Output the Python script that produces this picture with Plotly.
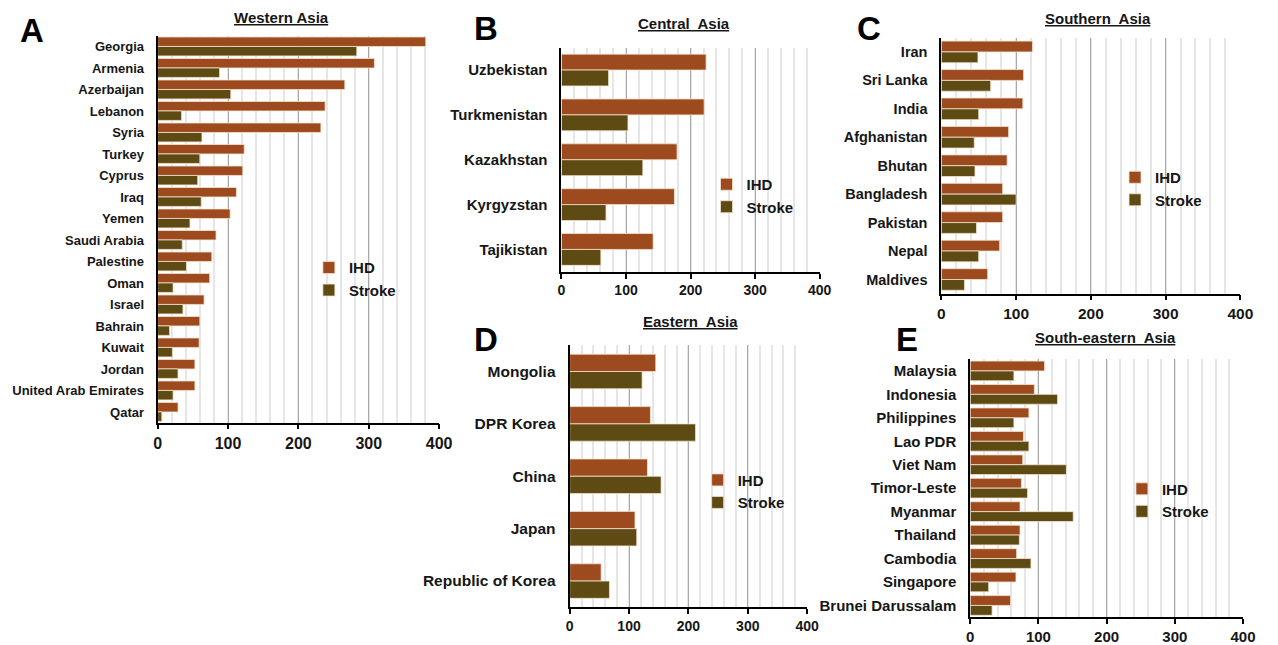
import plotly.graph_objects as go

# ---- data: deaths per 100,000 by country, ischaemic heart disease (IHD) and stroke ----
western_countries = ["Georgia", "Armenia", "Azerbaijan", "Lebanon", "Syria", "Turkey",
                     "Cyprus", "Iraq", "Yemen", "Saudi Arabia", "Palestine", "Oman",
                     "Israel", "Bahrain", "Kuwait", "Jordan", "United Arab Emirates", "Qatar"]
western_ihd = [381, 308, 266, 238, 232, 123, 121, 112, 103, 83, 77, 74, 66, 60, 59, 53, 53, 29]
western_stroke = [283, 88, 104, 34, 63, 60, 57, 62, 46, 35, 41, 22, 36, 17, 21, 29, 22, 6]

central_countries = ["Uzbekistan", "Turkmenistan", "Kazakhstan", "Kyrgyzstan", "Tajikistan"]
central_ihd = [224, 221, 179, 175, 142]
central_stroke = [73, 103, 126, 69, 61]

southern_countries = ["Iran", "Sri Lanka", "India", "Afghanistan", "Bhutan",
                      "Bangladesh", "Pakistan", "Nepal", "Maldives"]
southern_ihd = [122, 110, 109, 90, 88, 82, 82, 78, 62]
southern_stroke = [49, 66, 50, 44, 45, 100, 47, 50, 31]

eastern_countries = ["Mongolia", "DPR Korea", "China", "Japan", "Republic of Korea"]
eastern_ihd = [145, 136, 131, 110, 53]
eastern_stroke = [122, 212, 154, 113, 67]

southeastern_countries = ["Malaysia", "Indonesia", "Philippines", "Lao PDR", "Viet Nam",
                          "Timor-Leste", "Myanmar", "Thailand", "Cambodia", "Singapore",
                          "Brunei Darussalam"]
southeastern_ihd = [109, 94, 86, 78, 77, 75, 73, 73, 68, 67, 59]
southeastern_stroke = [64, 128, 64, 86, 141, 84, 151, 72, 89, 27, 32]

x_ticks = [0, 100, 200, 300, 400]

# ---- styling ----
W, H = 1278, 645
IHD_COLOR = "#9c4a1e"
STROKE_COLOR = "#5e4b14"
EDGE = "#f4e2cf"
FONT = "Liberation Sans, Arial, sans-serif"
TEXT = "#161616"

# panel layout in pixels: plot box (left, right, top, bottom), bar width in
# category units, tick font sizes, title centre, letter centre, legend anchor
panels = [
    dict(letter="A", title="Western Asia",
         countries=western_countries, ihd=western_ihd, stroke=western_stroke,
         box=(155.7, 441.0, 36, 426), bw=0.44, xfont=16, yfont=13,
         title_xy=(281.7, 18), letter_xy=(28, 31), legend_xy=(309, 281)),
    dict(letter="B", title="Central\u00a0 Asia",
         countries=central_countries, ihd=central_ihd, stroke=central_stroke,
         box=(565.0, 826.7, 48, 274), bw=0.355, xfont=14, yfont=15,
         title_xy=(689, 24), letter_xy=(489, 29), legend_xy=(712, 197)),
    dict(letter="C", title="Southern\u00a0 Asia",
         countries=southern_countries, ihd=southern_ihd, stroke=southern_stroke,
         box=(950.0, 1253.0, 38, 296), bw=0.38, xfont=15.5, yfont=14.5,
         title_xy=(1109, 19), letter_xy=(877, 29), legend_xy=(1126, 190)),
    dict(letter="D", title="Eastern\u00a0 Asia",
         countries=eastern_countries, ihd=eastern_ihd, stroke=eastern_stroke,
         box=(573.3, 814.0, 348, 612), bw=0.33, xfont=14, yfont=15.5,
         title_xy=(696, 324), letter_xy=(489, 342), legend_xy=(703, 495)),
    dict(letter="E", title="South-eastern\u00a0 Asia",
         countries=southeastern_countries, ihd=southeastern_ihd, stroke=southeastern_stroke,
         box=(979.3, 1255.7, 362, 622), bw=0.42, xfont=15, yfont=15,
         title_xy=(1116, 340), letter_xy=(915, 342), legend_xy=(1133, 504)),
]


def px_x(x):
    return x / W


def px_y(y):
    return 1 - y / H


fig = go.Figure()
annotations = []
layout = {}

for i, p in enumerate(panels, start=1):
    sfx = "" if i == 1 else str(i)
    xa, ya = "x" + sfx, "y" + sfx
    leg = "legend" + sfx
    bw = p["bw"]

    # IHD bar sits above the stroke bar within each country slot
    fig.add_trace(go.Bar(
        y=p["countries"], x=p["ihd"], name="IHD", orientation="h",
        width=bw, offset=-bw, xaxis=xa, yaxis=ya, legend=leg,
        marker=dict(color=IHD_COLOR, line=dict(color=EDGE, width=0.8)),
    ))
    fig.add_trace(go.Bar(
        y=p["countries"], x=p["stroke"], name="Stroke", orientation="h",
        width=bw, offset=0, xaxis=xa, yaxis=ya, legend=leg,
        marker=dict(color=STROKE_COLOR, line=dict(color=EDGE, width=0.8)),
    ))

    left, right, top, bottom = p["box"]
    n = len(p["countries"])
    layout["xaxis" + sfx] = dict(
        domain=[px_x(left), px_x(right)], anchor=ya,
        range=[0, 400], tickvals=x_ticks, ticks="outside", ticklen=5,
        tickwidth=1.5, tickcolor="black", showline=True, linecolor="black",
        linewidth=1.5, showgrid=True, gridcolor="#a8a8a8", gridwidth=1,
        minor=dict(dtick=20, tick0=0, showgrid=True, gridcolor="#e6e6e6", gridwidth=1.5),
        zeroline=False, fixedrange=True,
        tickfont=dict(family=FONT, size=p["xfont"], color=TEXT, weight="bold"),
    )
    layout["yaxis" + sfx] = dict(
        domain=[px_y(bottom), px_y(top)], anchor=xa, type="category",
        range=[n - 0.5, -0.5], showline=True, linecolor="black", linewidth=2,
        ticks="", showgrid=False, zeroline=False, fixedrange=True,
        ticklabelstandoff=9,
        tickfont=dict(family=FONT, size=p["yfont"], color=TEXT, weight="bold"),
    )
    lx, ly = p["legend_xy"]
    layout[leg] = dict(
        x=px_x(lx), y=px_y(ly), xanchor="left", yanchor="middle",
        bgcolor="rgba(0,0,0,0)", traceorder="normal", itemwidth=30,
        tracegroupgap=0, itemclick=False, itemdoubleclick=False,
        font=dict(family=FONT, size=15, color=TEXT, weight="bold"),
    )

    tx, ty = p["title_xy"]
    annotations.append(dict(
        text="<u>" + p["title"] + "</u>", x=px_x(tx), y=px_y(ty),
        xref="paper", yref="paper", xanchor="center", yanchor="middle",
        showarrow=False, font=dict(family=FONT, size=15, color=TEXT, weight="bold"),
    ))
    cx, cy = p["letter_xy"]
    annotations.append(dict(
        text=p["letter"], x=px_x(cx), y=px_y(cy),
        xref="paper", yref="paper", xanchor="center", yanchor="middle",
        showarrow=False, font=dict(family=FONT, size=33, color="black", weight="bold"),
    ))

fig.update_layout(
    width=W, height=H, margin=dict(l=0, r=0, t=0, b=0),
    paper_bgcolor="white", plot_bgcolor="white",
    barmode="group", showlegend=True, annotations=annotations,
    **layout,
)

fig.write_html("out.html")
